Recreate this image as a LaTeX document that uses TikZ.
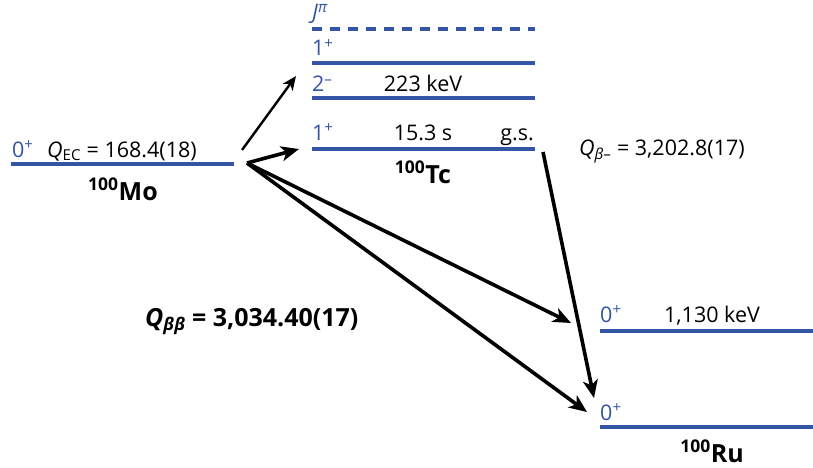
\documentclass[tikz,border=0pt]{standalone}
\usepackage{fontspec}
\setmainfont{Open Sans}
\usetikzlibrary{arrows.meta}
\definecolor{lvl}{RGB}{52,84,164}
\begin{document}
\begin{tikzpicture}[x=1pt,y=-1pt,
  level/.style={draw=lvl, line width=3.2pt},
  dlevel/.style={draw=lvl, line width=3.2pt, dash pattern=on 10pt off 8pt},
  spin/.style={text=lvl, font=\fontsize{21.5}{24}\selectfont, anchor=base west, inner sep=0pt},
  val/.style={font=\fontsize{21.5}{24}\selectfont, anchor=base, inner sep=0pt},
  nuc/.style={font=\bfseries\fontsize{25}{28}\selectfont, anchor=base, inner sep=0pt},
  bigarrow/.style={line width=3.6pt, -{Stealth[length=18pt,width=15pt,inset=5pt]}},
  smallarrow/.style={line width=2.4pt, -{Stealth[length=14pt,width=12pt,inset=4pt]}}
]
\useasboundingbox (0,0) rectangle (813,468);

% 100Mo
\draw[level] (11,164) coordinate (mo-l) -- (234,164) coordinate (mo-r);
\node[spin] (mo-spin) at (12,157) {0\textsuperscript{+}};
\node[val, anchor=base west] (qec) at (47,157) {\textit{Q}\textsubscript{EC} = 168.4(18)};
\node[nuc] (mo-name) at (123,200) {\textsuperscript{100}Mo};

% 100Tc
\draw[dlevel] (312,29) -- (535,29);
\node[spin] (tc-j) at (312,20) {\textit{J}\textsuperscript{\textit{π}}};
\draw[level] (312,63) -- (535,63);
\node[spin] (tc-s1) at (312,56) {1\textsuperscript{+}};
\draw[level] (312,98) -- (535,98);
\node[spin] (tc-s2) at (312,92) {2\textsuperscript{–}};
\node[val] (tc-e2) at (423,92) {223 keV};
\draw[level] (312,149) coordinate (tc-l) -- (535,149) coordinate (tc-r);
\node[spin] (tc-s0) at (312,140) {1\textsuperscript{+}};
\node[val] (tc-t) at (423,140) {15.3 s};
\node[val, anchor=base east] (tc-gs) at (534,140) {g.s.};
\node[nuc] (tc-name) at (423,183) {\textsuperscript{100}Tc};

% Q beta-
\node[val, anchor=base west] (qbm) at (579,155) {\textit{Q}\textsubscript{\textit{β}–} = 3,202.8(17)};

% 100Ru
\draw[level] (600,331) -- (813,331);
\node[spin] (ru-s1) at (600,322) {0\textsuperscript{+}};
\node[val] (ru-e1) at (712,322) {1,130 keV};
\draw[level] (600,427) -- (813,427);
\node[spin] (ru-s0) at (600,420) {0\textsuperscript{+}};
\node[nuc] (ru-name) at (712,462) {\textsuperscript{100}Ru};

% Q beta beta
\node[font=\bfseries\fontsize{25}{28}\selectfont, anchor=base west, inner sep=0pt] (qbb) at (145,326) {\textit{Q}\textsubscript{\textit{ββ}} = 3,034.40(17)};

% arrow endpoints
\coordinate (src) at (247,163);
\coordinate (src2) at (242,150);
\coordinate (tip-tc1) at (296,76);
\coordinate (tip-tc0) at (299,149);
\coordinate (tip-ru1) at (571,323);
\coordinate (tip-ru0) at (587,412);
\coordinate (bm-start) at (543,152);
\coordinate (bm-tip) at (594,398);

\draw[smallarrow] (src2) -- (tip-tc1);
\draw[bigarrow] (src) -- (tip-tc0);
\draw[bigarrow] (src) -- (tip-ru1);
\draw[bigarrow] (src) -- (tip-ru0);
\draw[bigarrow] (bm-start) -- (bm-tip);
\end{tikzpicture}
\end{document}
